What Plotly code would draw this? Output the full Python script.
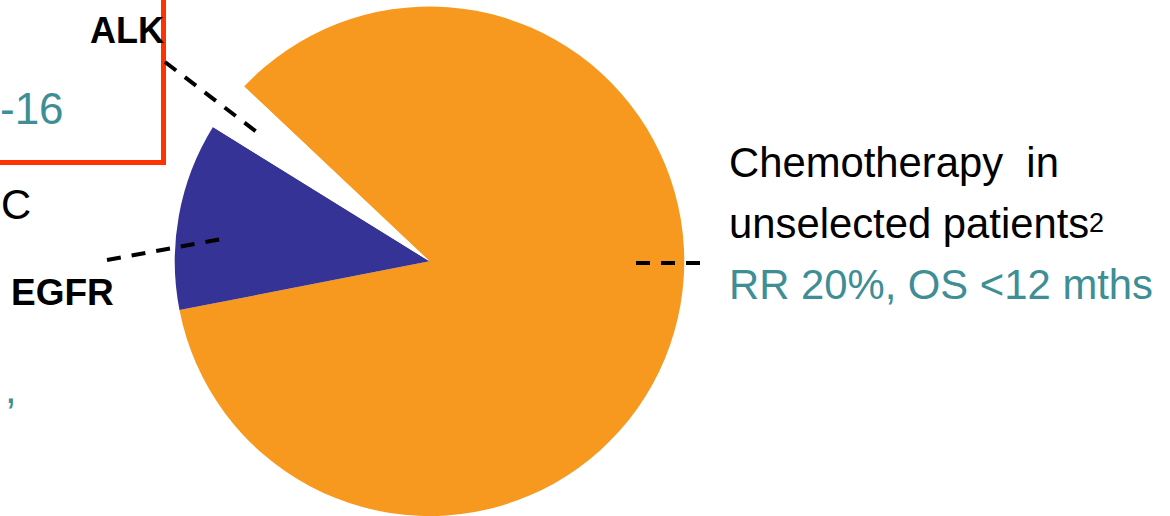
import plotly.graph_objects as go

# ---- data ----
segments = ["Chemotherapy in unselected patients", "EGFR", "ALK"]
shares = [84.9, 11.9, 3.2]          # % of NSCLC patients (slice sizes)
slice_colors = ["#F8991F", "#353496", "#FFFFFF"]

chemo_lines = ["Chemotherapy\u00a0\u00a0in", "unselected patients", "RR 20%, OS <12 mths"]
chemo_sup = "2"
left_labels = ["ALK", "EGFR"]
left_fragments = ["-16", "C", ","]

W, H = 1170, 516
TEAL = "#3D8E95"
FONT = "Liberation Sans, Arial, sans-serif"


def X(p):
    return p / W


def Y(p):
    return 1 - p / H


fig = go.Figure()
fig.add_trace(go.Pie(
    labels=segments,
    values=shares,
    sort=False,
    direction="clockwise",
    rotation=-46.7,
    marker=dict(colors=slice_colors, line=dict(width=0)),
    textinfo="none",
    hoverinfo="skip",
    showlegend=False,
    domain=dict(x=[X(174), X(685)], y=[0, Y(6.5)]),
))

dash_line = dict(color="black", width=4, dash="14px,11px")
shapes = [
    dict(type="rect", xref="paper", yref="paper",
         x0=X(-10), x1=X(163.5), y0=Y(162.5), y1=Y(-10),
         line=dict(color="#FF3300", width=5), fillcolor="rgba(0,0,0,0)"),
    dict(type="line", xref="paper", yref="paper",
         x0=X(165), y0=Y(62), x1=X(258), y1=Y(133), line=dash_line),
    dict(type="line", xref="paper", yref="paper",
         x0=X(107), y0=Y(260), x1=X(222), y1=Y(239), line=dash_line),
    dict(type="line", xref="paper", yref="paper",
         x0=X(636), y0=Y(263), x1=X(701), y1=Y(263), line=dash_line),
]


def ann(text, x, y, size, color="black", bold=False, xanchor="left"):
    return dict(
        text=f"<b>{text}</b>" if bold else text,
        x=X(x), y=Y(y), xref="paper", yref="paper",
        xanchor=xanchor, yanchor="middle",
        showarrow=False, borderpad=0, borderwidth=0,
        font=dict(family=FONT, size=size, color=color),
    )


S = 41.8
annotations = [
    ann(chemo_lines[0], 729, 176.7 - 0.3465 * S, S),
    ann(chemo_lines[1], 729, 238.3 - 0.3465 * S, S),
    ann(chemo_sup, 1089, 223, 27),
    ann(chemo_lines[2], 729, 299.3 - 0.3465 * S, S, color=TEAL),
    ann(left_labels[0], 90, 43.3 - 0.3465 * 36, 36, bold=True),
    ann(left_labels[1], 10.5, 305.7 - 0.3465 * 37, 37, bold=True),
    ann(left_fragments[0], 63.5, 123.3 - 0.3465 * 44, 44, color=TEAL, xanchor="right"),
    ann(left_fragments[1], 31, 218.8 - 0.3465 * S, S, xanchor="right"),
    ann(left_fragments[2], 4.7, 402.5 - 0.3465 * S, S, color=TEAL),
]

fig.update_layout(
    width=W, height=H,
    margin=dict(l=0, r=0, t=0, b=0),
    paper_bgcolor="white", plot_bgcolor="white",
    showlegend=False,
    shapes=shapes,
    annotations=annotations,
)

fig.write_html("out.html", config={"displayModeBar": False})
